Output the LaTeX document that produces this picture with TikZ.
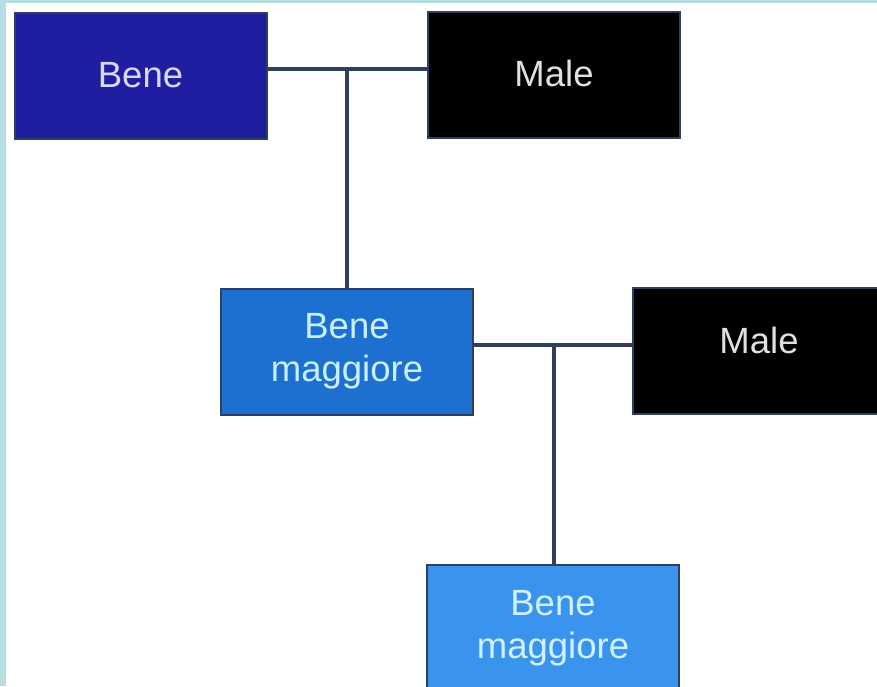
\documentclass[tikz,border=0pt]{standalone}
\usepackage{fontspec}
\setmainfont{Liberation Sans}
\usepackage{tikz}
\usetikzlibrary{positioning}
\definecolor{frameblue}{RGB}{180,222,226}
\definecolor{benedark}{RGB}{32,30,160}
\definecolor{benemid}{RGB}{30,112,208}
\definecolor{benelight}{RGB}{58,147,236}
\definecolor{linkgray}{RGB}{47,63,96}
\tikzset{box/.style={rectangle, draw=linkgray, line width=2pt, minimum width=252pt, minimum height=126pt, align=center, font=\fontsize{36.5}{43}\selectfont},
  link/.style={draw=linkgray, line width=3.2pt}}

\begin{document}
\begin{tikzpicture}[x=1pt,y=1pt]
            % frame of the page
            \useasboundingbox (0,0) rectangle (877,-686);
            \fill[frameblue] (0,0) rectangle (877,-686);
            \fill[white] (6,-3) rectangle (877,-686);

            % first choice
            \node[box, fill=benedark, text={rgb,255:red,216;green,216;blue,255}] (bene) at (140.5,-75.5) {Bene};
            \node[box, fill=black, text=white!88!black] (male1) at (554,-75) {\raisebox{3pt}{Male}};
            \coordinate (j1) at (347,-69);
            \draw[link] (bene.east |- j1) -- (male1.west |- j1);

            % second choice
            \node[box, fill=benemid, text={rgb,255:red,200;green,240;blue,255}] (bm1) at (347,-351.5) {Bene\\maggiore};
            \node[box, fill=black, text=white!88!black] (male2) at (759,-351) {\raisebox{22pt}{Male}};
            \coordinate (j2) at (554,-345);
            \draw[link] (j1) -- (j1 |- bm1.north);
            \draw[link] (bm1.east |- j2) -- (male2.west |- j2);

            % last one, cut by the page
            \node[box, fill=benelight, text={rgb,255:red,208;green,242;blue,255}] (bm2) at (553,-628) {Bene\\maggiore};
            \draw[link] (j2) -- (j2 |- bm2.north);
        \end{tikzpicture}
\end{document}
